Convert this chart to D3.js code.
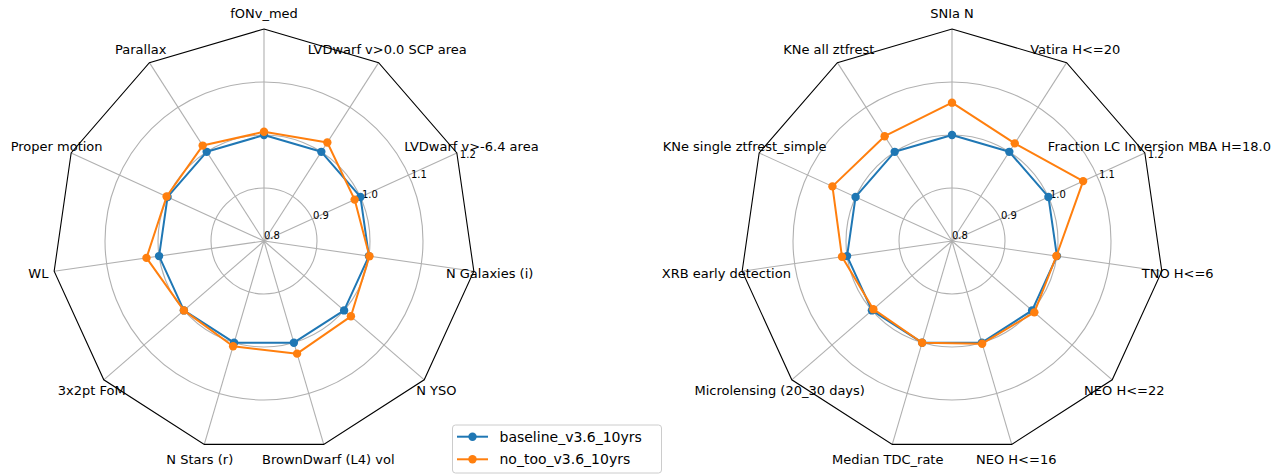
<!DOCTYPE html>
<html>
<head>
<meta charset="utf-8">
<script src="https://cdn.jsdelivr.net/npm/d3@7"></script>
<style>
  html, body { margin: 0; padding: 0; background: #fff; }
  svg { display: block; font-family: "DejaVu Sans", sans-serif; }
</style>
</head>
<body>
<svg id="chart" width="1284" height="475"></svg>
<script>
// ---- data ----
const leftCategories = ["fONv_med", "LVDwarf v>0.0 SCP area", "LVDwarf v>-6.4 area", "N Galaxies (i)", "N YSO",
  "BrownDwarf (L4) vol", "N Stars (r)", "3x2pt FoM", "WL", "Proper motion", "Parallax"];
const leftBaseline = [1.0, 1.0, 1.0, 1.0, 1.0, 1.0, 1.0, 1.0, 1.0, 1.0, 1.0];
const leftNoToo = [1.006, 1.021, 0.988, 1.001, 1.017, 1.0215, 1.007, 1.0, 1.024, 1.002, 1.014];

const rightCategories = ["SNIa N", "Vatira H<=20", "Fraction LC Inversion MBA H=18.0", "TNO H<=6", "NEO H<=22",
  "NEO H<=16", "Median TDC_rate", "Microlensing (20_30 days)", "XRB early detection", "KNe single ztfrest_simple", "KNe all ztfrest"];
const rightBaseline = [1.0, 1.0, 1.0, 1.0, 1.0, 1.0, 1.0, 1.0, 1.0, 1.0, 1.0];
const rightNoToo = [1.061, 1.019, 1.072, 0.999, 1.0056, 1.002, 1.0, 0.9964, 1.0097, 1.048, 1.035];

const seriesNames = ["baseline_v3.6_10yrs", "no_too_v3.6_10yrs"];
const seriesColors = ["#1f77b4", "#ff7f0e"];
const radialTicks = [0.8, 0.9, 1.0, 1.1, 1.2];
const gridRings = [0.9, 1.0, 1.1];

// ---- layout ----
const svg = d3.select("#chart");
const R = 212;
const rScale = d3.scaleLinear().domain([0.8, 1.2]).range([0, R]);

function drawRadar(cx, cy, categories, series) {
  const n = categories.length;
  const aScale = d3.scaleLinear().domain([0, n]).range([0, 2 * Math.PI]);
  const g = svg.append("g").attr("transform", `translate(${cx},${cy})`);
  const pt = (i, v) => {
    const a = aScale(i), r = rScale(v);
    return [r * Math.sin(a), -r * Math.cos(a)];
  };

  // grid rings
  g.selectAll("circle.ring").data(gridRings).enter().append("circle")
    .attr("r", d => rScale(d)).attr("fill", "none")
    .attr("stroke", "#b0b0b0").attr("stroke-width", 1.1);

  // spokes
  g.selectAll("line.spoke").data(categories).enter().append("line")
    .attr("x1", 0).attr("y1", 0)
    .attr("x2", (d, i) => pt(i, 1.2)[0]).attr("y2", (d, i) => pt(i, 1.2)[1])
    .attr("stroke", "#b0b0b0").attr("stroke-width", 1.1);

  // frame polygon
  g.append("path")
    .attr("d", d3.line()(categories.map((d, i) => pt(i, 1.2))) + "Z")
    .attr("fill", "none").attr("stroke", "#000").attr("stroke-width", 1.1);

  // radial tick labels (at 22.5 deg above horizontal)
  const ta = 67.5 * Math.PI / 180;
  g.selectAll("text.rtick").data(radialTicks).enter().append("text")
    .attr("x", d => rScale(d) * Math.sin(ta))
    .attr("y", d => -rScale(d) * Math.cos(ta))
    .attr("dy", -2)
    .attr("text-anchor", "start")
    .attr("font-size", "10px").attr("fill", "#000")
    .text(d => d.toFixed(1));

  // category labels
  g.selectAll("text.cat").data(categories).enter().append("text")
    .attr("x", (d, i) => 228 * Math.sin(aScale(i)))
    .attr("y", (d, i) => -228 * Math.cos(aScale(i)))
    .attr("dy", "0.36em")
    .attr("text-anchor", "middle")
    .attr("font-size", "13px").attr("fill", "#000")
    .text(d => d);

  // series
  series.forEach((vals, si) => {
    const pts = vals.map((v, i) => pt(i, v));
    g.append("path")
      .attr("d", d3.line()(pts) + "Z")
      .attr("fill", "none").attr("stroke", seriesColors[si]).attr("stroke-width", 2)
      .attr("stroke-linejoin", "round");
    g.selectAll(null).data(pts).enter().append("circle")
      .attr("cx", d => d[0]).attr("cy", d => d[1]).attr("r", 4.2)
      .attr("fill", seriesColors[si]);
  });
}

drawRadar(264, 241, leftCategories, [leftBaseline, leftNoToo]);
drawRadar(952, 241, rightCategories, [rightBaseline, rightNoToo]);

// legend
const lg = svg.append("g").attr("transform", "translate(452.5,425)");
lg.append("rect").attr("width", 209).attr("height", 48).attr("rx", 3)
  .attr("fill", "#fff").attr("fill-opacity", 0.8)
  .attr("stroke", "#cccccc").attr("stroke-width", 1);
seriesNames.forEach((name, i) => {
  const y = 11.7 + i * 22.6;
  lg.append("line").attr("x1", 4.5).attr("x2", 35.5).attr("y1", y).attr("y2", y)
    .attr("stroke", seriesColors[i]).attr("stroke-width", 2);
  lg.append("circle").attr("cx", 20).attr("cy", y).attr("r", 4.2).attr("fill", seriesColors[i]);
  lg.append("text").attr("x", 47).attr("y", y).attr("dy", "0.35em")
    .attr("font-size", "14px").attr("fill", "#000").text(name);
});
</script>
</body>
</html>
